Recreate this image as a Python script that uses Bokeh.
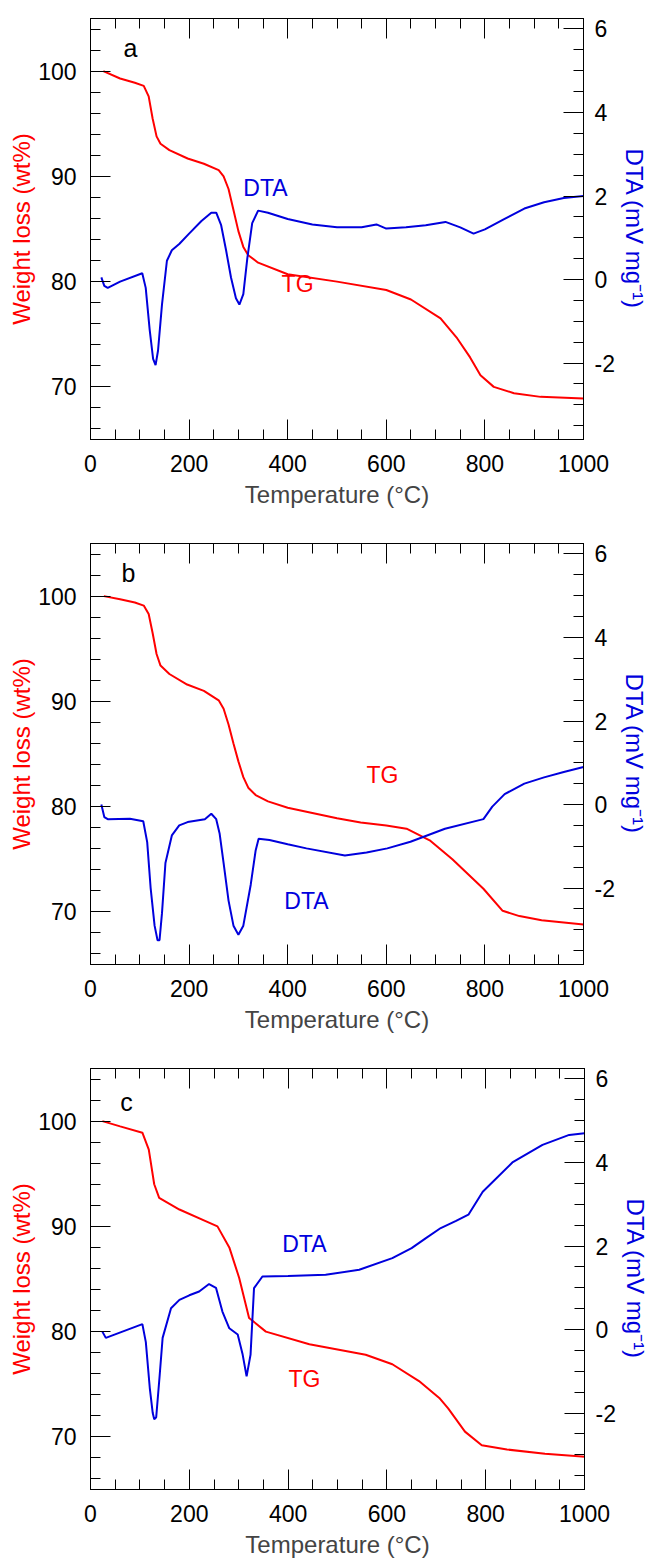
from bokeh.plotting import figure
from bokeh.models import Range1d, LinearAxis, FixedTicker, CustomLabelingPolicy
from bokeh.layouts import column
from bokeh.core.properties import value
from bokeh.embed import file_html
from bokeh.resources import INLINE

# ---------------- data ----------------
x_ticks = [0, 200, 400, 600, 800, 1000]
x_minor = [v for v in range(0, 1001, 50)]
w_ticks = [70, 80, 90, 100]
w_minor = [v for v in range(66, 105, 2)]
d_ticks = [-2, 0, 2, 4, 6]
d_labels = {-2: "-2", 0: "0", 2: "2", 4: "4", 6: "6"}
d_minor = [v / 2 for v in range(-7, 13)]

# panel a
tg_a_T = [26, 60, 90, 108, 118, 126, 134, 142, 160, 197, 230, 260, 270, 280, 290, 300, 310, 320, 340, 400, 500, 600, 650, 710, 744, 770, 791, 818, 859, 913, 1000]
tg_a_W = [100, 99.3, 98.9, 98.6, 97.6, 95.5, 93.8, 93.1, 92.5, 91.7, 91.2, 90.6, 90.0, 88.8, 86.8, 84.8, 83.3, 82.5, 81.8, 80.7, 80.0, 79.2, 78.3, 76.5, 74.6, 72.8, 71.1, 70.0, 69.4, 69.05, 68.9]
dta_a_T = [22, 28, 35, 60, 105, 112, 120, 127, 132, 137, 145, 155, 165, 180, 200, 225, 245, 255, 265, 275, 285, 295, 302, 310, 318, 328, 340, 360, 400, 450, 500, 550, 580, 600, 640, 680, 720, 750, 777, 800, 840, 880, 920, 960, 1000]
dta_a_D = [0.05, -0.15, -0.2, -0.05, 0.15, -0.2, -1.2, -1.9, -2.05, -1.7, -0.6, 0.45, 0.7, 0.85, 1.1, 1.4, 1.6, 1.6, 1.3, 0.7, 0.05, -0.45, -0.6, -0.35, 0.5, 1.35, 1.65, 1.6, 1.45, 1.32, 1.25, 1.25, 1.32, 1.22, 1.25, 1.3, 1.38, 1.25, 1.1, 1.2, 1.45, 1.7, 1.85, 1.95, 2.0]

# panel b
tg_b_T = [27, 60, 90, 108, 118, 126, 134, 142, 160, 196, 230, 260, 270, 280, 290, 300, 310, 320, 335, 360, 400, 450, 500, 548, 600, 641, 688, 734, 797, 836, 870, 915, 1000]
tg_b_W = [100, 99.7, 99.4, 99.1, 98.3, 96.5, 94.5, 93.4, 92.6, 91.6, 91.0, 90.1, 89.3, 87.8, 86.0, 84.3, 82.8, 81.8, 81.1, 80.5, 79.9, 79.4, 78.9, 78.5, 78.2, 77.9, 76.8, 75.0, 72.2, 70.1, 69.6, 69.2, 68.8]
dta_b_T = [22, 28, 35, 80, 107, 115, 122, 130, 136, 140, 145, 152, 165, 180, 197, 232, 245, 255, 262, 270, 280, 290, 300, 310, 325, 335, 341, 363, 400, 438, 516, 560, 602, 649, 719, 797, 815, 840, 880, 920, 960, 1000]
dta_b_D = [0.0, -0.3, -0.35, -0.34, -0.4, -0.9, -2.0, -2.9, -3.25, -3.25, -2.6, -1.4, -0.74, -0.5, -0.42, -0.35, -0.22, -0.35, -0.7, -1.4, -2.3, -2.9, -3.12, -2.9, -1.92, -1.1, -0.82, -0.85, -0.95, -1.05, -1.22, -1.15, -1.05, -0.89, -0.58, -0.35, -0.05, 0.25, 0.5, 0.65, 0.78, 0.9]

# panel c
tg_c_T = [24, 60, 105, 118, 129, 139, 180, 233, 257, 281, 301, 321, 355, 443, 557, 611, 665, 706, 724, 758, 792, 843, 920, 1005]
tg_c_W = [100, 99.5, 98.9, 97.3, 94.0, 92.7, 91.6, 90.5, 90.0, 88.0, 85.1, 81.3, 80.0, 78.8, 77.8, 76.9, 75.3, 73.7, 72.7, 70.5, 69.2, 68.8, 68.4, 68.1]
dta_c_T = [24, 31, 105, 112, 120, 126, 129, 133, 140, 146, 163, 180, 200, 220, 240, 254, 267, 281, 298, 308, 316, 324, 331, 348, 400, 476, 544, 611, 650, 679, 709, 740, 765, 794, 854, 915, 969, 1000]
dta_c_D = [-0.05, -0.2, 0.13, -0.3, -1.4, -2.0, -2.15, -2.1, -1.1, -0.2, 0.51, 0.71, 0.82, 0.91, 1.09, 1.0, 0.43, 0.03, -0.12, -0.6, -1.12, -0.6, 0.99, 1.27, 1.28, 1.31, 1.43, 1.71, 1.95, 2.19, 2.43, 2.6, 2.75, 3.3, 4.0, 4.42, 4.66, 4.7]

panels = [
    ("a", tg_a_T, tg_a_W, dta_a_T, dta_a_D, (81, 102.2), (355, 88.9), (420, 79.8)),
    ("b", tg_b_T, tg_b_W, dta_b_T, dta_b_D, (77, 102.15), (438, 71.0), (592, 83.0)),
    ("c", tg_c_T, tg_c_W, dta_c_T, dta_c_D, (73, 101.8), (433, 88.3), (433, 75.5)),
]

RED = "#ff0000"
BLUE = "#0000dd"
FONT = "Liberation Sans"
FS = "23px"
FS_LAB = "24px"

hide_all = CustomLabelingPolicy(code="""
try { for (const i of Array.from(indices)) { indices.unset(i) } } catch (e) {}
return indices
""")


def style_axis(ax, ticks, minor, labels=True):
    ax.ticker = FixedTicker(ticks=ticks, minor_ticks=minor)
    ax.major_tick_in = 20
    ax.major_tick_out = 0
    ax.minor_tick_in = 10
    ax.minor_tick_out = 0
    ax.axis_line_color = "black"
    ax.major_tick_line_color = "black"
    ax.minor_tick_line_color = "black"
    ax.major_label_text_font = FONT
    ax.major_label_text_color = "black"
    ax.axis_label_text_font = FONT
    ax.axis_label_text_font_style = "normal"
    ax.axis_label_text_font_size = FS_LAB
    if labels:
        ax.major_label_text_font_size = FS
    else:
        ax.major_label_text_font_size = "1px"
        ax.major_label_standoff = 0
        ax.major_label_policy = hide_all


figs = []
for i, (letter, tT, tW, dT, dD, lpos, dpos, tpos) in enumerate(panels):
    last = i == 2
    p = figure(frame_width=494 if last else 493, frame_height=421,
               output_backend="svg", toolbar_location=None,
               x_range=Range1d(0, 1000), y_range=Range1d(65, 105),
               min_border_left=88 if last else 90, min_border_right=74 if last else 73,
               min_border_top=18, min_border_bottom=71 if last else 86)
    p.extra_y_ranges = {"dta": Range1d(-3.83, 6.25)}
    p.grid.visible = False
    p.outline_line_color = "black"
    p.background_fill_color = "white"
    p.border_fill_color = "white"

    style_axis(p.xaxis[0], x_ticks, x_minor)
    p.xaxis[0].axis_label = "Temperature (°C)"
    p.xaxis[0].major_label_standoff = 15
    p.xaxis[0].axis_label_standoff = 6
    style_axis(p.yaxis[0], w_ticks, w_minor)
    p.yaxis[0].axis_label = "Weight loss (wt%)"
    p.yaxis[0].axis_label_text_color = RED
    p.yaxis[0].major_label_standoff = 14
    p.yaxis[0].axis_label_standoff = 0

    ra = LinearAxis(y_range_name="dta")
    style_axis(ra, d_ticks, d_minor)
    ra.major_label_overrides = d_labels
    ra.axis_label = "DTA (mV mg⁻¹)"
    ra.axis_label_text_color = BLUE
    ra.major_label_standoff = 11
    ra.axis_label_standoff = 3
    p.add_layout(ra, "right")

    ta = LinearAxis()
    style_axis(ta, x_ticks, x_minor, labels=False)
    p.add_layout(ta, "above")

    p.line(tT, tW, line_color=RED, line_width=2)
    p.line(dT, dD, line_color=BLUE, line_width=2, y_range_name="dta")

    p.text([lpos[0]], [lpos[1]], text=[letter], text_font=value(FONT), text_font_size="25px",
           text_color="black", text_align="center", text_baseline="middle")
    p.text([dpos[0]], [dpos[1]], text=["DTA"], text_font=value(FONT), text_font_size=FS,
           text_color=BLUE, text_align="center", text_baseline="middle")
    p.text([tpos[0]], [tpos[1]], text=["TG"], text_font=value(FONT), text_font_size=FS,
           text_color=RED, text_align="center", text_baseline="middle")
    figs.append(p)

layout = column(*figs, spacing=0)
open("out.html", "w").write(file_html(layout, INLINE))
